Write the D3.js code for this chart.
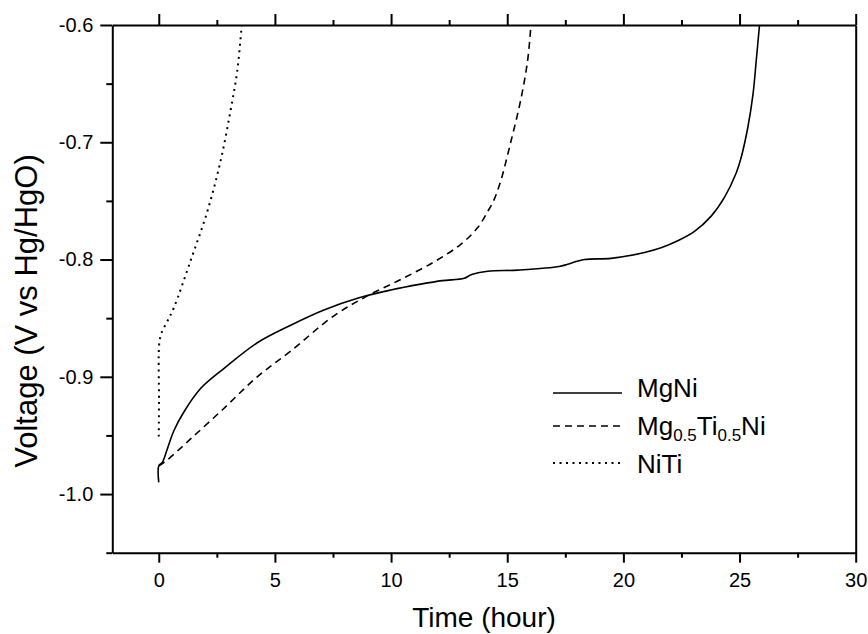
<!DOCTYPE html>
<html>
<head>
<meta charset="utf-8">
<script src="https://cdn.jsdelivr.net/npm/d3@7"></script>
<style>
  body { margin: 0; background: #fff; }
  svg text { font-family: "Liberation Sans", Arial, Helvetica, sans-serif; fill: #000; }
</style>
</head>
<body>
<svg id="chart" width="868" height="634"></svg>
<script>
// MgNi (solid)
const mgniTime = [0, 0, 0.15, 0.36, 0.65, 1.08, 1.8, 2.8, 4.24, 5.68, 7.11, 8.55, 9.99, 11.28, 12.2, 13.15, 13.44, 14.16, 15.45, 17.24, 17.6, 18.32, 19.47, 20.91, 21.62, 22.34, 23.06, 23.78, 24.35, 24.86, 25.07, 25.36, 25.58, 25.72, 25.86];
const mgniVolt = [-0.99, -0.976, -0.973, -0.962, -0.946, -0.93, -0.91, -0.893, -0.871, -0.856, -0.843, -0.833, -0.826, -0.821, -0.818, -0.816, -0.813, -0.81, -0.809, -0.806, -0.804, -0.8, -0.799, -0.794, -0.79, -0.784, -0.776, -0.763, -0.747, -0.726, -0.713, -0.687, -0.659, -0.63, -0.6];

// Mg0.5Ti0.5Ni (dashed)
const mgtiTime = [0, 0.36, 1.37, 2.8, 4.24, 5.68, 7.54, 8.98, 10.42, 11.85, 13.0, 13.72, 14.16, 14.41, 14.72, 15.15, 15.58, 15.88, 16.02];
const mgtiVolt = [-0.976, -0.971, -0.953, -0.927, -0.9, -0.878, -0.848, -0.831, -0.817, -0.802, -0.787, -0.773, -0.759, -0.75, -0.733, -0.7, -0.664, -0.63, -0.6];

// NiTi (dotted)
const nitiTime = [0, 0.01, 0.03, 0.15, 0.36, 0.65, 1.37, 2.09, 2.66, 3.09, 3.38, 3.57];
const nitiVolt = [-0.951, -0.92, -0.87, -0.861, -0.853, -0.841, -0.801, -0.759, -0.716, -0.673, -0.639, -0.6];

const xMajor = [0, 5, 10, 15, 20, 25, 30];
const xMinor = [2.5, 7.5, 12.5, 17.5, 22.5, 27.5];
const yMajor = [-0.6, -0.7, -0.8, -0.9, -1.0];
const yMinor = [-0.65, -0.75, -0.85, -0.95, -1.05];

const series = [
  { name: "MgNi", t: mgniTime, v: mgniVolt, dash: null },
  { name: "Mg0.5Ti0.5Ni", t: mgtiTime, v: mgtiVolt, dash: "7,5" },
  { name: "NiTi", t: nitiTime, v: nitiVolt, dash: "2,4.5" }
];

const pLeft = 112.3, pRight = 855.7, pTop = 25, pBottom = 552.7;
const x = d3.scaleLinear().domain([-2, 30]).range([pLeft, pRight]);
const y = d3.scaleLinear().domain([-1.05, -0.6]).range([pBottom, pTop]);

const svg = d3.select("#chart");

svg.append("clipPath").attr("id", "clip")
  .append("rect").attr("x", pLeft).attr("y", pTop).attr("width", pRight - pLeft).attr("height", pBottom - pTop);

const line = d3.line()
  .x(d => x(d[0]))
  .y(d => y(d[1]))
  .curve(d3.curveCatmullRom.alpha(0.5));

series.forEach(s => {
  svg.append("path")
    .datum(s.t.map((t, i) => [t, s.v[i]]))
    .attr("clip-path", "url(#clip)")
    .attr("fill", "none")
    .attr("stroke", "#000")
    .attr("stroke-width", s.dash === "2,4.5" ? 2 : 1.6)
    .attr("stroke-dasharray", s.dash)
    .attr("d", line);
});

// axes: outward ticks, major + minor
function styleAxis(g) {
  g.selectAll("path").attr("stroke-width", 2);
  g.selectAll("line").attr("stroke-width", 2);
  g.selectAll("text").attr("font-size", 20).attr("font-family", null);
}

const xAxisB = svg.append("g").attr("transform", `translate(0,${pBottom})`)
  .call(d3.axisBottom(x).tickValues(xMajor).tickSize(10).tickSizeOuter(0).tickPadding(10).tickFormat(d3.format("d")));
svg.append("g").attr("transform", `translate(0,${pBottom})`)
  .call(d3.axisBottom(x).tickValues(xMinor).tickSize(5).tickSizeOuter(0).tickFormat(""))
  .call(g => g.select(".domain").remove()).call(styleAxis);
styleAxis(xAxisB);

const xAxisT = svg.append("g").attr("transform", `translate(0,${pTop})`)
  .call(d3.axisTop(x).tickValues(xMajor).tickSize(11).tickSizeOuter(0).tickFormat(""));
svg.append("g").attr("transform", `translate(0,${pTop})`)
  .call(d3.axisTop(x).tickValues(xMinor).tickSize(5).tickSizeOuter(0).tickFormat(""))
  .call(g => g.select(".domain").remove()).call(styleAxis);
styleAxis(xAxisT);

const yAxisL = svg.append("g").attr("transform", `translate(${pLeft},0)`)
  .call(d3.axisLeft(y).tickValues(yMajor).tickSize(12).tickSizeOuter(0).tickPadding(7).tickFormat(d3.format(".1f")));
svg.append("g").attr("transform", `translate(${pLeft},0)`)
  .call(d3.axisLeft(y).tickValues(yMinor).tickSize(6).tickSizeOuter(0).tickFormat(""))
  .call(g => g.select(".domain").remove()).call(styleAxis);
styleAxis(yAxisL);

const yAxisR = svg.append("g").attr("transform", `translate(${pRight},0)`)
  .call(d3.axisRight(y).tickValues([]).tickSizeOuter(0));
styleAxis(yAxisR);

// plain hyphen minus like the original
yAxisL.selectAll("text").text(d => d3.format(".1f")(d).replace("−", "-"));

// axis titles
svg.append("text")
  .attr("x", (pLeft + pRight) / 2).attr("y", 627)
  .attr("text-anchor", "middle").attr("font-size", 28)
  .text("Time (hour)");

svg.append("text")
  .attr("transform", "translate(37,311) rotate(-90)")
  .attr("text-anchor", "middle").attr("font-size", 31)
  .text("Voltage (V vs Hg/HgO)");

// legend
const legendRows = [
  { s: series[0], ly: 393, ty: 397 },
  { s: series[1], ly: 426, ty: 435 },
  { s: series[2], ly: 463, ty: 473 }
];
const legend = svg.append("g");
legendRows.forEach(r => {
  legend.append("line")
    .attr("x1", 553).attr("x2", 622).attr("y1", r.ly).attr("y2", r.ly)
    .attr("stroke", "#000").attr("stroke-width", r.s.dash === "2,4.5" ? 2 : 1.6)
    .attr("stroke-dasharray", r.s.dash);
  const t = legend.append("text").attr("x", 637).attr("y", r.ty).attr("font-size", 26);
  if (r.s.name === "Mg0.5Ti0.5Ni") {
    t.append("tspan").text("Mg");
    t.append("tspan").attr("font-size", 17).attr("dy", 6).text("0.5");
    t.append("tspan").attr("dy", -6).text("Ti");
    t.append("tspan").attr("font-size", 17).attr("dy", 6).text("0.5");
    t.append("tspan").attr("dy", -6).text("Ni");
  } else {
    t.text(r.s.name);
  }
});
</script>
</body>
</html>
